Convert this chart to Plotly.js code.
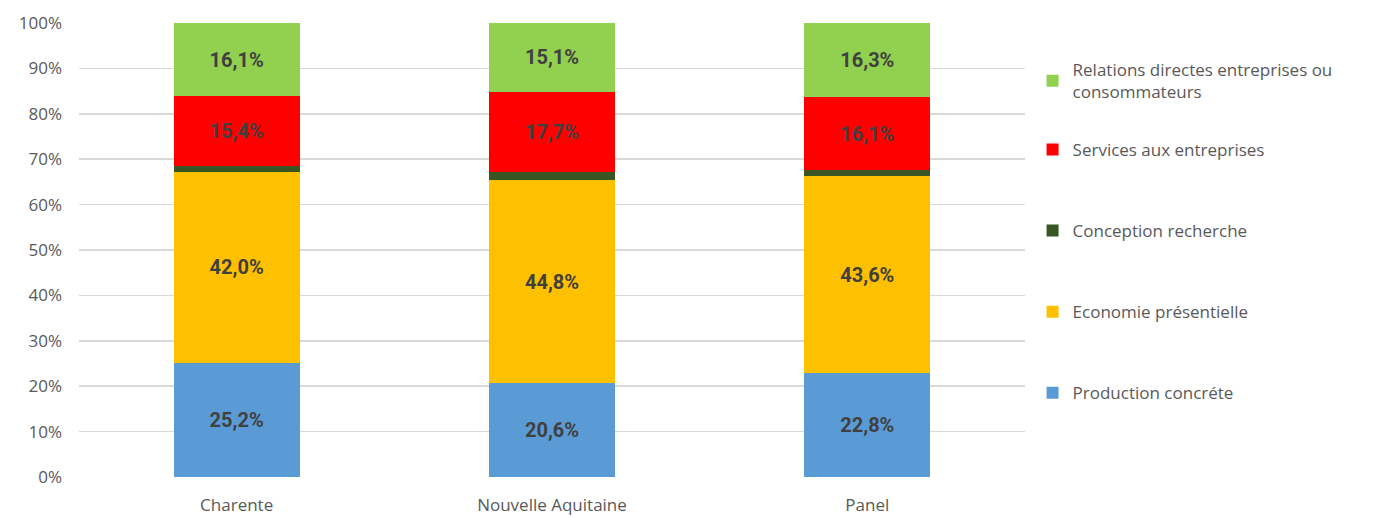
<!DOCTYPE html>
<html><head><meta charset="utf-8">
<script src="https://cdn.plot.ly/plotly-3.0.1.min.js"></script>
<style>body{margin:0;background:#fff}#chart{width:1384px;height:518px}</style>
</head><body><div id="chart"></div>
<script>
const categories = ["Charente", "Nouvelle Aquitaine", "Panel"];
const production = [25.2, 20.6, 22.8];
const economie = [42.0, 44.8, 43.6];
const conception = [1.3, 1.8, 1.2];
const services = [15.4, 17.7, 16.1];
const relations = [16.1, 15.1, 16.3];
const seriesNames = ["Production concréte", "Economie présentielle", "Conception recherche", "Services aux entreprises", "Relations directes entreprises ou<br>consommateurs"];
const seriesColors = ["#5b9bd5", "#ffc000", "#375623", "#ff0000", "#92d050"];
const seriesValues = [production, economie, conception, services, relations];
const showLabel = [true, true, false, true, true];

const traces = seriesValues.map((vals, i) => ({
  type: 'bar', x: categories, y: vals, name: seriesNames[i],
  marker: {color: seriesColors[i], line: {width: 0}},
  width: 0.4,
  texttemplate: showLabel[i] ? '<b>%{y:.1f}%</b>' : '',
  textposition: showLabel[i] ? 'inside' : 'none',
  insidetextanchor: 'middle',
  textfont: {family: 'Roboto, sans-serif', size: 20, color: '#404040'},
  legendgroup: 'g' + i,
  legendrank: 100 - i,
  legend: i === 4 ? 'legend2' : 'legend',
  hoverinfo: 'none'
}));

const legendFont = {size: 17, color: '#595959'};
const layout = {
  barmode: 'stack',
  separators: ', ',
  width: 1384, height: 518,
  margin: {l: 79, r: 359, t: 23, b: 41},
  paper_bgcolor: '#fff', plot_bgcolor: '#fff',
  font: {family: '"Open Sans", sans-serif', color: '#595959'},
  xaxis: {
    type: 'category', range: [-0.5, 2.5], showgrid: false, zeroline: false,
    showline: false, ticks: '', tickfont: {size: 17, color: '#595959'},
    ticklabelstandoff: 16
  },
  yaxis: {
    range: [0, 100], dtick: 10, ticksuffix: '%', showgrid: true,
    gridcolor: '#d9d9d9', gridwidth: 1.5, zeroline: false, showline: false,
    ticks: '', tickfont: {size: 17, color: '#595959'}, ticklabelstandoff: 16
  },
  legend: {
    x: 1.008, xanchor: 'left', y: 0.76, yanchor: 'top',
    font: legendFont, tracegroupgap: 56, itemwidth: 30, traceorder: 'grouped'
  },
  legend2: {
    x: 1.008, xanchor: 'left', y: 0.936, yanchor: 'top',
    font: legendFont, itemwidth: 30
  },
  showlegend: true
};
Plotly.newPlot('chart', traces, layout, {displayModeBar: false, staticPlot: true});
</script></body></html>
